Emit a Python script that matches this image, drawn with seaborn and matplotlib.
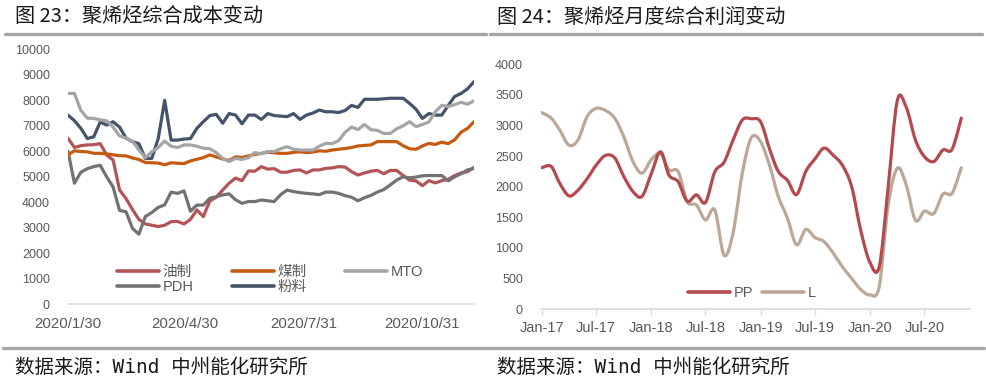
import pandas as pd
import numpy as np
import matplotlib
matplotlib.use('Agg')
import matplotlib.pyplot as plt
import matplotlib.dates as mdates
from matplotlib.lines import Line2D
from matplotlib.path import Path
from matplotlib.patches import PathPatch
import seaborn as sns

# ---- left chart: cost series, one value every 5 days from 2020-01-30
cost_dates = pd.date_range('2020-01-30', periods=64, freq='5D')
oil_cost = [6510, 6150, 6220, 6250, 6260, 6300, 5850, 5660, 4480, 4150,
            3720, 3330, 3150, 3100, 3050, 3100, 3240, 3250, 3150, 3330,
            3700, 3440, 4050, 4200, 4480, 4750, 4950, 4850, 5230, 5220,
            5400, 5300, 5320, 5180, 5180, 5250, 5270, 5150, 5270, 5270,
            5330, 5350, 5400, 5380, 5200, 5070, 5150, 5220, 5250, 5120,
            5250, 5250, 5050, 4870, 4840, 4650, 4850, 4760, 4850, 4900,
            5050, 5150, 5200, 5370]
coal_cost = [5860, 6020, 5990, 5980, 5920, 5920, 5900, 5860, 5830, 5820,
             5740, 5680, 5560, 5550, 5540, 5470, 5550, 5530, 5520, 5620,
             5690, 5750, 5860, 5780, 5700, 5640, 5780, 5760, 5820, 5880,
             5920, 5970, 5940, 5920, 5920, 5960, 5980, 5950, 5970, 6020,
             6000, 6050, 6080, 6110, 6150, 6210, 6230, 6250, 6380, 6380,
             6380, 6380, 6220, 6100, 6080, 6210, 6310, 6270, 6360, 6300,
             6450, 6750, 6900, 7160]
mto_cost = [8270, 8270, 7600, 7300, 7290, 7230, 7200, 6950, 6600, 6520,
            6400, 6050, 5750, 5980, 6150, 6400, 6200, 6150, 6250, 6250,
            6200, 6120, 6100, 5950, 5720, 5600, 5720, 5680, 5750, 5950,
            5900, 5990, 5990, 6100, 6180, 6080, 6050, 6050, 6050, 6200,
            6310, 6300, 6420, 6750, 6950, 6850, 7050, 6850, 6820, 6700,
            6700, 6880, 7000, 7160, 6970, 7050, 7150, 7550, 7800, 7760,
            7830, 7920, 7850, 7980]
pdh_cost = [6000, 4750, 5180, 5320, 5400, 5450, 5000, 4600, 3680, 3630,
            2980, 2750, 3440, 3600, 3800, 3900, 4400, 4350, 4450, 3650,
            3890, 3890, 4160, 4220, 4290, 4330, 4100, 3960, 4030, 4030,
            4090, 4060, 4030, 4300, 4480, 4420, 4380, 4350, 4330, 4300,
            4400, 4400, 4350, 4260, 4200, 4060, 4180, 4270, 4400, 4500,
            4680, 4870, 5000, 4960, 4990, 5040, 5050, 5050, 5050, 4840,
            5000, 5120, 5270, 5330]
powder_cost = [7420, 7200, 6900, 6500, 6570, 7150, 7030, 7160, 6950, 6520,
               6380, 6300, 5720, 5720, 6500, 8000, 6440, 6440, 6480, 6500,
               6900, 7160, 7400, 7450, 7100, 7480, 7420, 7080, 7420, 7420,
               7250, 7480, 7400, 7380, 7360, 7480, 7250, 7420, 7500, 7620,
               7550, 7550, 7520, 7600, 7800, 7720, 8040, 8040, 8040, 8060,
               8080, 8080, 8080, 7880, 7650, 7290, 7480, 7420, 7420, 7800,
               8150, 8270, 8450, 8730]
cost_names = ['油制', 'PDH', '煤制', '粉料', 'MTO']
cost_colors = ['#B35456', '#767171', '#C55A11', '#44546A', '#A5A5A5']
cost_ticks = ['2020-01-30', '2020-04-30', '2020-07-31', '2020-10-31']

# ---- right chart: monthly profit, Jan-17 .. Nov-20
profit_months = pd.date_range('2017-01-01', periods=47, freq='MS')
pp_profit = [2310, 2330, 2060, 1850, 1940, 2130, 2350, 2510, 2470, 2170,
             1920, 1840, 2210, 2570, 2190, 2080, 1760, 1865, 1740, 2240,
             2400, 2760, 3090, 3110, 3060, 2600, 2250, 2100, 1870, 2250,
             2450, 2630, 2510, 2350, 2000, 1290, 760, 690, 1950, 3400,
             3300, 2760, 2490, 2410, 2600, 2610, 3120]
l_profit = [3210, 3120, 2930, 2680, 2760, 3145, 3280, 3245, 3120, 2820,
            2410, 2220, 2440, 2545, 2275, 2245, 1755, 1700, 1455, 1620,
            880, 1240, 2220, 2800, 2735, 2330, 1840, 1480, 1050, 1300,
            1170, 1100, 910, 690, 500, 320, 230, 365, 1670, 2300,
            2030, 1450, 1600, 1560, 1880, 1890, 2310]
profit_names = ['PP', 'L']
profit_colors = ['#B4494E', '#BBA896']


def smooth_path(xs, ys):
    # Excel-style smoothed line: cubic Bezier through every data point
    pts = np.column_stack([xs, ys])
    verts = [pts[0]]
    codes = [Path.MOVETO]
    n = len(pts)
    for i in range(n - 1):
        p0 = pts[max(i - 1, 0)]
        p1 = pts[i]
        p2 = pts[i + 1]
        p3 = pts[min(i + 2, n - 1)]
        verts += [p1 + (p2 - p0) / 6, p2 - (p3 - p1) / 6, p2]
        codes += [Path.CURVE4] * 3
    return Path(verts, codes)


sns.set_theme(style='white')
plt.rcParams['font.family'] = ['Liberation Sans', 'Noto Sans CJK SC']
tick_color = '#595959'
spine_color = '#D9D9D9'

fig = plt.figure(figsize=(9.87, 3.92), dpi=100)

# left chart
cost_df = pd.DataFrame({'date': cost_dates, '油制': oil_cost, 'PDH': pdh_cost,
                        '煤制': coal_cost, '粉料': powder_cost, 'MTO': mto_cost})
cost_long = cost_df.melt(id_vars='date', var_name='series', value_name='value')
ax1 = fig.add_axes([68 / 987, (392 - 304.3) / 392, 406 / 987, 255 / 392])
sns.lineplot(data=cost_long, x='date', y='value', hue='series',
             hue_order=cost_names, palette=cost_colors, linewidth=2.3,
             ax=ax1, legend=False)
ax1.set_xlim(cost_dates[0], cost_dates[-1])
ax1.set_ylim(0, 10000)
ax1.set_yticks(np.arange(0, 10001, 1000))
ax1.set_xticks(pd.to_datetime(cost_ticks))
ax1.set_xticklabels(['2020/1/30', '2020/4/30', '2020/7/31', '2020/10/31'])
ax1.tick_params(axis='x', labelsize=10.8, colors=tick_color, length=0, pad=9)
ax1.tick_params(axis='y', labelsize=9, colors=tick_color, length=0, pad=13)
ax1.set_xlabel('')
ax1.set_ylabel('')
for s in ['top', 'right', 'left']:
    ax1.spines[s].set_visible(False)
ax1.spines['bottom'].set_color(spine_color)
ax1.spines['bottom'].set_linewidth(1.2)
handles1 = [Line2D([], [], color=c, lw=2.6) for c in cost_colors]
ax1.legend(handles1, cost_names, ncol=3, frameon=False, fontsize=10.5,
           loc='center', bbox_to_anchor=(270 / 987, 1 - 279.5 / 392),
           bbox_transform=fig.transFigure, handlelength=2.9,
           columnspacing=2.6, handletextpad=0.25, labelspacing=0.05,
           labelcolor=tick_color)

# right chart: seaborn sets up the date scale, the curves are smoothed paths
profit_df = pd.DataFrame({'month': profit_months, 'PP': pp_profit, 'L': l_profit})
profit_long = profit_df.melt(id_vars='month', var_name='series', value_name='value')
ax2 = fig.add_axes([541 / 987, (392 - 309) / 392, 429 / 987, 244.7 / 392])
sns.lineplot(data=profit_long, x='month', y='value', hue='series',
             hue_order=profit_names, palette=profit_colors, linewidth=0,
             ax=ax2, legend=False)
month_num = mdates.date2num(profit_months)
for name, color in zip(profit_names[::-1], profit_colors[::-1]):
    ax2.add_patch(PathPatch(smooth_path(month_num, profit_df[name].to_numpy(float)),
                            facecolor='none', edgecolor=color, lw=2.3,
                            capstyle='round', joinstyle='round'))
ax2.set_xlim(pd.Timestamp('2016-12-29'), pd.Timestamp('2020-11-30'))
ax2.set_ylim(0, 4000)
ax2.set_yticks(np.arange(0, 4001, 500))
ax2.set_xticks(pd.date_range('2017-01-01', '2020-07-01', freq='6MS'))
ax2.xaxis.set_major_formatter(mdates.DateFormatter('%b-%y'))
ax2.tick_params(axis='x', labelsize=10.5, colors=tick_color, length=4,
                width=1, pad=5, bottom=True)
ax2.tick_params(axis='x', color=spine_color)
ax2.tick_params(axis='y', labelsize=9, colors=tick_color, length=0, pad=13)
ax2.set_xlabel('')
ax2.set_ylabel('')
for s in ['top', 'right', 'left']:
    ax2.spines[s].set_visible(False)
ax2.spines['bottom'].set_color(spine_color)
ax2.spines['bottom'].set_linewidth(1.2)
handles2 = [Line2D([], [], color=c, lw=2.6) for c in profit_colors]
ax2.legend(handles2, profit_names, ncol=2, frameon=False, fontsize=10.5,
           loc='center', bbox_to_anchor=(752 / 987, 1 - 293 / 392),
           bbox_transform=fig.transFigure, handlelength=2.9,
           columnspacing=0.6, handletextpad=0.25, labelcolor=tick_color)

# titles, rules and source notes
title_font = ['Noto Sans CJK SC', 'DejaVu Sans']
fig.text(15 / 987, 1 - 17 / 392, '图 23：聚烯烃综合成本变动', fontsize=14.5,
         family=title_font, va='center', ha='left', color='#1A1A1A')
fig.text(497 / 987, 1 - 17 / 392, '图 24：聚烯烃月度综合利润变动', fontsize=14.5,
         family=title_font, va='center', ha='left', color='#1A1A1A')
rule = dict(color='#A6A6A6', lw=2.4, transform=fig.transFigure)
fig.add_artist(Line2D([5 / 987, 486 / 987], [1 - 34 / 392] * 2, **rule))
fig.add_artist(Line2D([490 / 987, 982 / 987], [1 - 34 / 392] * 2, **rule))
fig.add_artist(Line2D([3 / 987, 984 / 987], [1 - 348 / 392] * 2, **rule))
src_font = ['DejaVu Sans Mono', 'Noto Sans CJK SC']
fig.text(15 / 987, 1 - 367 / 392, '数据来源：Wind 中州能化研究所', fontsize=14,
         family=src_font, va='center', ha='left', color='#1A1A1A')
fig.text(497 / 987, 1 - 367 / 392, '数据来源：Wind 中州能化研究所', fontsize=14,
         family=src_font, va='center', ha='left', color='#1A1A1A')

fig.savefig('out.png', dpi=100, facecolor='white')
